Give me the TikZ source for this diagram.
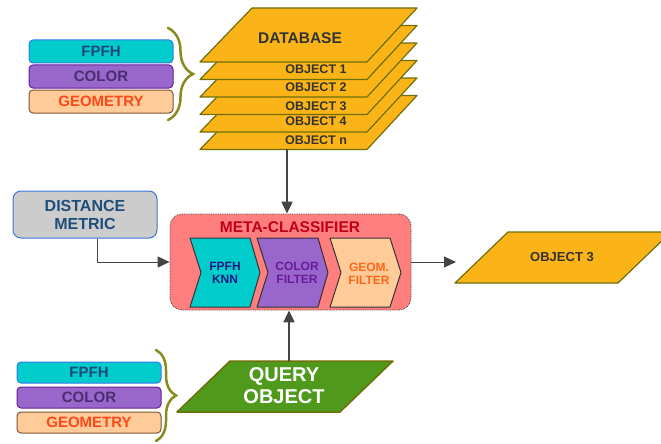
\documentclass[tikz,border=0pt]{standalone}
\usepackage{fontspec}
\setmainfont{Liberation Sans}
\usetikzlibrary{arrows.meta,decorations.pathreplacing}

\definecolor{dbfill}{HTML}{FBB417}
\definecolor{dbline}{HTML}{6E6E0A}
\definecolor{bracecol}{HTML}{8A8A1E}
\definecolor{fpfhfill}{HTML}{00CCCC}
\definecolor{fpfhline}{HTML}{3377EE}
\definecolor{fpfhtext}{HTML}{1F497D}
\definecolor{colfill}{HTML}{9966CC}
\definecolor{colline}{HTML}{6A1B9A}
\definecolor{coltext}{HTML}{4A2E6F}
\definecolor{geofill}{HTML}{FFCC99}
\definecolor{geoline}{HTML}{7F5233}
\definecolor{geotext}{HTML}{FF4719}
\definecolor{metafill}{HTML}{FF7F7F}
\definecolor{metatext}{HTML}{C0001A}
\definecolor{dmfill}{HTML}{CCCCCC}
\definecolor{dmline}{HTML}{3C78D8}
\definecolor{dmtext}{HTML}{1F4E79}
\definecolor{knntext}{HTML}{1A1A80}
\definecolor{cftext}{HTML}{6A1B9A}
\definecolor{gftext}{HTML}{FF6619}
\definecolor{qfill}{HTML}{4F9A1C}
\definecolor{connc}{HTML}{444444}
\definecolor{darktext}{HTML}{333333}

\tikzset{
  plane/.style={fill=dbfill, draw=dbline, line width=1.2pt, line join=round},
  objlab/.style={text=darktext, font=\fontsize{12.5}{14}\selectfont\bfseries, inner sep=0pt},
  featbox/.style={rounded corners=4pt, line width=1pt, minimum width=144pt, inner sep=0pt,
                  font=\fontsize{15}{17}\selectfont\bfseries},
  fpfhbox/.style={featbox, fill=fpfhfill, draw=fpfhline, text=fpfhtext},
  colbox/.style={featbox, fill=colfill, draw=colline, text=coltext},
  geobox/.style={featbox, fill=geofill, draw=geoline, text=geotext},
  bracestyle/.style={draw=bracecol, line width=2.5pt, line cap=round,
                     decorate, decoration={brace, amplitude=#1}},
  chev/.style={draw=darktext, line width=1pt, line join=round},
  chevlab/.style={align=center, inner sep=0pt, font=\fontsize{12}{13.5}\selectfont\bfseries},
  conn/.style={draw=connc, line width=1pt, -{Triangle[length=12pt, width=11pt]}},
  connthick/.style={conn, line width=2pt},
}

\begin{document}
\begin{tikzpicture}[x=1pt, y=-1pt]
\useasboundingbox (0,0) rectangle (661,444);
\clip (0,0) rectangle (661,444);

% ---- database: stack of object layers, database layer on top
\foreach \d in {87.5,70,52.5,35,17.5,0}{
  \draw[plane] (252,8+\d) -- (417,8+\d) -- (367,62+\d) -- (200,62+\d) -- cycle;
}
\node[text=darktext, font=\fontsize{15.5}{17}\selectfont\bfseries] (db) at (300,38) {DATABASE};
\node[objlab] (o1) at (316,69.5) {OBJECT 1};
\node[objlab] (o2) at (316,87) {OBJECT 2};
\node[objlab] (o3) at (316,106) {OBJECT 3};
\node[objlab] (o4) at (316,121) {OBJECT 4};
\node[objlab] (on) at (316,140) {OBJECT n};
\coordinate (dbbot) at (287,149);

% ---- descriptor groups with braces
\node[fpfhbox, minimum height=23pt] (f1) at (101,51.5) {FPFH};
\node[colbox,  minimum height=23pt] (c1) at (101,76.5) {COLOR};
\node[geobox,  minimum height=23pt] (g1) at (101,101.5) {GEOMETRY};
\draw[bracestyle=25pt] (168,28) -- (168,120);

\node[fpfhbox, minimum height=21pt] (f2) at (89,372.5) {FPFH};
\node[colbox,  minimum height=21pt] (c2) at (89,397.5) {COLOR};
\node[geobox,  minimum height=21pt] (g2) at (89,422.5) {GEOMETRY};
\draw[bracestyle=20pt] (156,350) -- (156,441);

% ---- distance metric
\node[rounded corners=8pt, fill=dmfill, draw=dmline, line width=1pt,
      minimum width=144pt, minimum height=47pt, align=center, text=dmtext,
      font=\fontsize{16}{18}\selectfont\bfseries] (dm) at (85,214.5) {DISTANCE\\METRIC};

% ---- meta-classifier
\node[rounded corners=12pt, fill=metafill, draw=connc, densely dotted, line width=0.8pt,
      minimum width=241pt, minimum height=96pt] (meta) at (290.5,262) {};
\node[text=metatext, font=\fontsize{15.5}{17}\selectfont\bfseries] (mtitle) at (290,227) {META-CLASSIFIER};

\draw[chev, fill=fpfhfill] (190,238) -- (250,238) -- (260,272.5) -- (250,307) -- (190,307) -- (201,272.5) -- cycle;
\draw[chev, fill=colfill]  (257,238) -- (318,238) -- (328,272.5) -- (318,307) -- (257,307) -- (268,272.5) -- cycle;
\draw[chev, fill=geofill]  (330,238) -- (390,238) -- (401,272.5) -- (390,307) -- (330,307) -- (341,272.5) -- cycle;
\node[chevlab, text=knntext] (knn) at (225,273) {FPFH\\KNN};
\node[chevlab, text=cftext]  (cf)  at (297,273) {COLOR\\FILTER};
\node[chevlab, text=gftext]  (gf)  at (369,274) {GEOM.\\FILTER};

% ---- result
\draw[plane] (455,283) -- (618,283) -- (671,232) -- (508,232) -- cycle;
\node[text=darktext, font=\fontsize{13}{15}\selectfont\bfseries] (res) at (562,257.5) {OBJECT 3};
\coordinate (resin) at (456,262);

% ---- query object
\draw[fill=qfill, draw=dbline, line width=1.5pt, line join=round]
  (177,412) -- (340,412) -- (393,361) -- (230,361) -- cycle;
\node[text=white, align=center, font=\fontsize{20}{22}\selectfont\bfseries] (query) at (284,386) {QUERY\\OBJECT};
\coordinate (qtop) at (289,361);

% ---- connectors
\draw[connthick] (dbbot) -- (dbbot |- meta.north);
\draw[connthick] (qtop) -- (qtop |- meta.south);
\draw[conn] ([xshift=12pt]dm.south) |- (meta.west);
\draw[conn] (meta.east) -- (meta.east -| resin);
\end{tikzpicture}
\end{document}
